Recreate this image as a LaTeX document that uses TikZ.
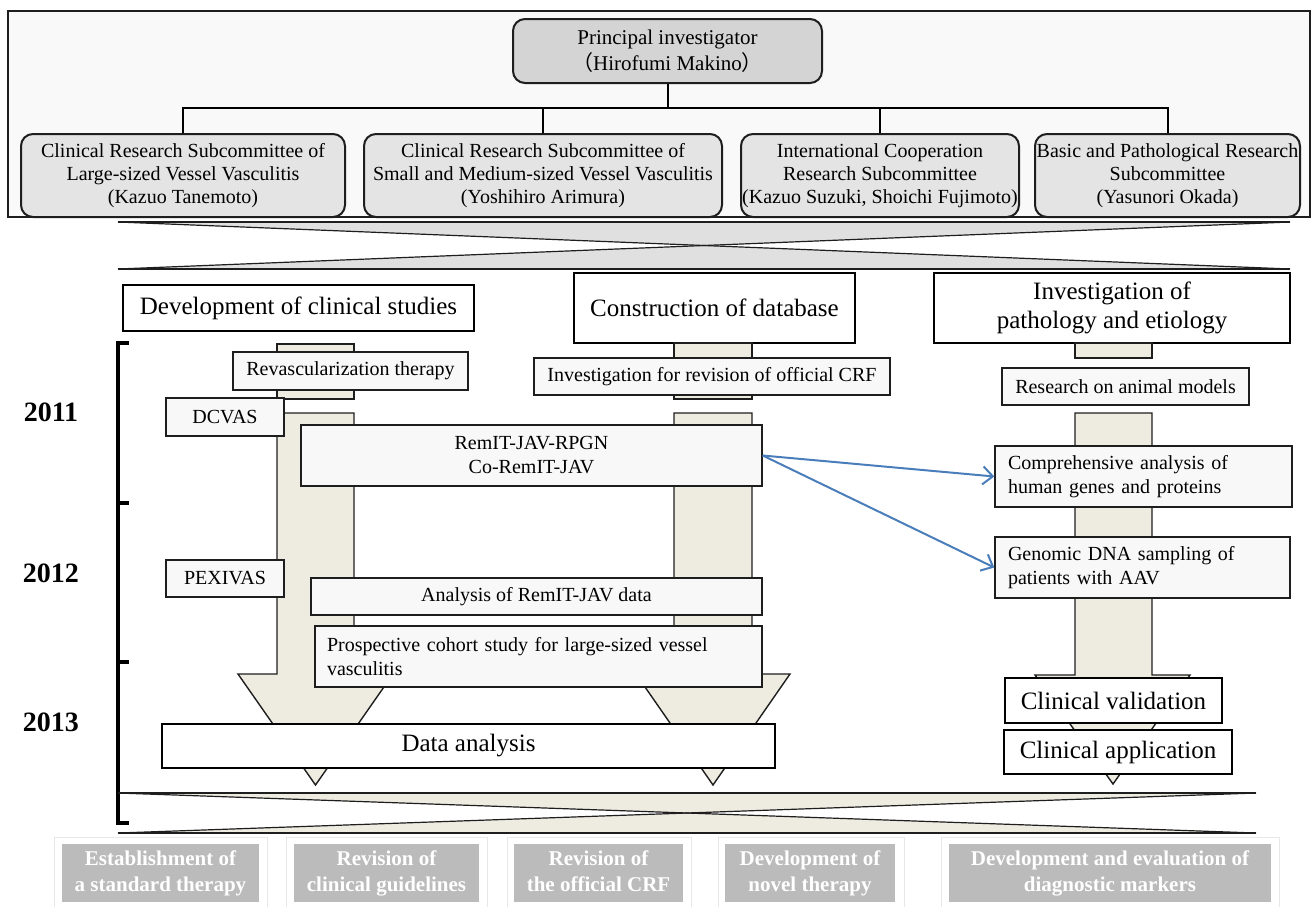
\documentclass[tikz,border=0pt]{standalone}
\usepackage{fontspec}
\setmainfont{Liberation Serif}
\newfontfamily\cjk{Noto Sans CJK JP}
\usetikzlibrary{arrows.meta}
\definecolor{beige}{RGB}{238,235,224}
\definecolor{boxfill}{RGB}{248,248,248}
\definecolor{topbg}{RGB}{249,249,249}
\definecolor{pifill}{RGB}{212,212,212}
\definecolor{subfill}{RGB}{228,228,228}
\definecolor{hgfill}{RGB}{224,224,224}
\definecolor{outgray}{RGB}{187,187,187}
\definecolor{linkblue}{RGB}{74,126,187}
\definecolor{linec}{RGB}{30,30,30}
\begin{document}
\begin{tikzpicture}[x=1pt,y=-1pt,
  box/.style={draw=linec, line width=1.4pt, fill=boxfill, inner sep=0pt, font=\fontsize{20}{24}\selectfont, align=center},
  lbox/.style={box, align=left, inner xsep=13pt},
  hdr/.style={draw=black, line width=2pt, fill=white, inner sep=0pt, font=\fontsize{25}{29}\selectfont, align=center},
  sub/.style={draw=linec, line width=2pt, rounded corners=12pt, fill=subfill, inner sep=0pt, font=\fontsize{20}{23}\selectfont, align=center},
  col/.style={fill=beige, draw=linec, line width=1.4pt},
  outcome/.style={fill=outgray, text=white, inner sep=0pt, font=\bfseries\fontsize{21}{26}\selectfont, align=center},
  oframe/.style={draw=gray!18, fill=white, line width=1pt},
  year/.style={font=\bfseries\fontsize{28}{30}\selectfont},
  link/.style={draw=linkblue, line width=2pt, -{Straight Barb[length=10pt,width=18pt]}},
  tree/.style={draw=black, line width=2pt}
]
\useasboundingbox (0,0) rectangle (1312,906);

% ---------- top organisation frame ----------
\draw[fill=topbg, draw=linec, line width=2pt] (8,11) rectangle (1310,217);
\node[sub, fill=pifill, minimum width=309pt, minimum height=64pt, font=\fontsize{21}{26}\selectfont] (pi) at (667.5,51)
  {Principal investigator\\{\cjk （}Hirofumi Makino{\cjk ）}};
\node[sub, minimum width=324pt, minimum height=83pt] (s1) at (183,175.5)
  {Clinical Research Subcommittee of\\Large-sized Vessel Vasculitis\\(Kazuo Tanemoto)};
\node[sub, minimum width=358pt, minimum height=83pt] (s2) at (543,175.5)
  {Clinical Research Subcommittee of\\Small and Medium-sized Vessel Vasculitis\\(Yoshihiro Arimura)};
\node[sub, minimum width=278pt, minimum height=83pt] (s3) at (880,175.5)
  {International Cooperation\\Research Subcommittee\\(Kazuo Suzuki, Shoichi Fujimoto)};
\node[sub, minimum width=265pt, minimum height=83pt] (s4) at (1167.5,175.5)
  {Basic and Pathological Research\\Subcommittee\\(Yasunori Okada)};
\coordinate (bus) at (0,108);
\draw[tree] (pi.south) -- (pi.south |- bus);
\draw[tree] (s1.north) -- (s1.north |- bus) -- (s4.north |- bus) -- (s4.north);
\draw[tree] (s2.north) -- (s2.north |- bus);
\draw[tree] (s3.north) -- (s3.north |- bus);

% ---------- upper hourglass ----------
\coordinate (hgA) at (704,245.5);
\fill[hgfill] (118,222) -- (1290,222) -- (hgA) -- cycle;
\fill[hgfill] (118,269) -- (1290,269) -- (hgA) -- cycle;
\draw[linec, line width=1.2pt] (118,222) -- (1290,269);
\draw[linec, line width=1.2pt] (118,269) -- (1290,222);
\draw[linec, line width=2.5pt] (118,222) -- (1290,222);
\draw[linec, line width=2.5pt] (118,269) -- (1290,269);

% ---------- headers ----------
\node[hdr, minimum width=351pt, minimum height=46pt] (h1) at (298.5,308) {Development of clinical studies};
\node[hdr, minimum width=281pt, minimum height=70pt] (h2) at (714.5,308) {Construction of database};
\node[hdr, minimum width=356pt, minimum height=70pt] (h3) at (1112,308) {Investigation of\\pathology and etiology};

% ---------- beige columns ----------
\draw[col] (277,344) rectangle (354,399);
\draw[col] (674,343) rectangle (752,399);
\draw[col] (1075,343) rectangle (1152,358);
\draw[col] (277,413) -- (354,413) -- (354,674) -- (393,674) -- (315.5,785) -- (238,674) -- (277,674) -- cycle;
\draw[col] (674,413) -- (752,413) -- (752,674) -- (790,674) -- (713,785) -- (636,674) -- (674,674) -- cycle;
\draw[col] (1075,413) -- (1152,413) -- (1152,675) -- (1190,675) -- (1113,784) -- (1035,675) -- (1075,675) -- cycle;

% ---------- activity boxes ----------
\node[box, minimum width=235pt, minimum height=38pt] (rev) at (350.5,371) {Revascularization therapy};
\node[box, minimum width=118pt, minimum height=38pt] (dcvas) at (225,417) {DCVAS};
\node[box, minimum width=356pt, minimum height=37pt] (crf) at (712,376.5) {Investigation for revision of official CRF};
\node[box, minimum width=247pt, minimum height=37pt] (animal) at (1125.5,386.5) {Research on animal models};
\node[box, minimum width=461pt, minimum height=61pt] (remit) at (531.5,455.5) {RemIT-JAV-RPGN\\Co-RemIT-JAV};
\node[lbox, text width=271pt, minimum height=61pt] (comp) at (1143.5,476.5) {Comprehensive analysis of\\human genes and proteins};
\node[lbox, text width=269pt, minimum height=61pt] (geno) at (1142.5,567.5) {Genomic DNA sampling of\\patients with AAV};
\node[box, minimum width=118pt, minimum height=37pt] (pex) at (225,578.5) {PEXIVAS};
\node[box, minimum width=451pt, minimum height=37pt] (anrem) at (536.5,596.5) {Analysis of RemIT-JAV data};
\node[lbox, inner xsep=12pt, text width=423pt, minimum height=61pt] (prosp) at (538.5,656.5) {Prospective cohort study for large-sized vessel\\vasculitis};
\node[hdr, line width=1.6pt, minimum width=613pt, minimum height=44pt] (data) at (468.5,746) {Data analysis};
\node[hdr, minimum width=217pt, minimum height=45pt] (cval) at (1113.5,700.5) {Clinical validation};
\node[hdr, minimum width=228pt, minimum height=44pt] (capp) at (1118,752) {Clinical application};

\draw[link] (remit.east) -- (comp.west);
\draw[link] (remit.east) -- (geno.west);

% ---------- years and bracket ----------
\node[year] (y1) at (51,412) {2011};
\node[year] (y2) at (51,573) {2012};
\node[year] (y3) at (51,722) {2013};
\draw[black, line width=4.5pt] (129,343) -- (118,343) -- (118,823) -- (129,823);
\draw[black, line width=4.5pt] (118,503) -- (129,503);
\draw[black, line width=4.5pt] (118,662) -- (129,662);

% ---------- lower hourglass ----------
\coordinate (hgB) at (687,813);
\fill[beige] (118,793) -- (1256,793) -- (hgB) -- cycle;
\fill[beige] (118,833) -- (1256,833) -- (hgB) -- cycle;
\draw[linec, line width=1.2pt] (118,793) -- (1256,833);
\draw[linec, line width=1.2pt] (118,833) -- (1256,793);
\draw[linec, line width=2.2pt] (118,793) -- (1256,793);
\draw[linec, line width=2.2pt] (118,833) -- (1256,833);

% ---------- outcomes ----------
\draw[oframe] (54,837) rectangle (267,910);
\draw[oframe] (286,837) rectangle (487,910);
\draw[oframe] (507,837) rectangle (691,910);
\draw[oframe] (718,837) rectangle (904,910);
\draw[oframe] (941,837) rectangle (1279,910);
\node[outcome, minimum width=197pt, minimum height=58pt] (o1) at (160.5,873) {Establishment of\strut\\a standard therapy\strut};
\node[outcome, minimum width=185pt, minimum height=58pt] (o2) at (386.5,873) {Revision of\strut\\clinical guidelines\strut};
\node[outcome, minimum width=169pt, minimum height=58pt] (o3) at (598.5,873) {Revision of\strut\\the official CRF\strut};
\node[outcome, minimum width=170pt, minimum height=58pt] (o4) at (810,873) {Development of\strut\\novel therapy\strut};
\node[outcome, minimum width=322pt, minimum height=58pt] (o5) at (1110,873) {Development and evaluation of\strut\\diagnostic markers\strut};
\end{tikzpicture}
\end{document}
